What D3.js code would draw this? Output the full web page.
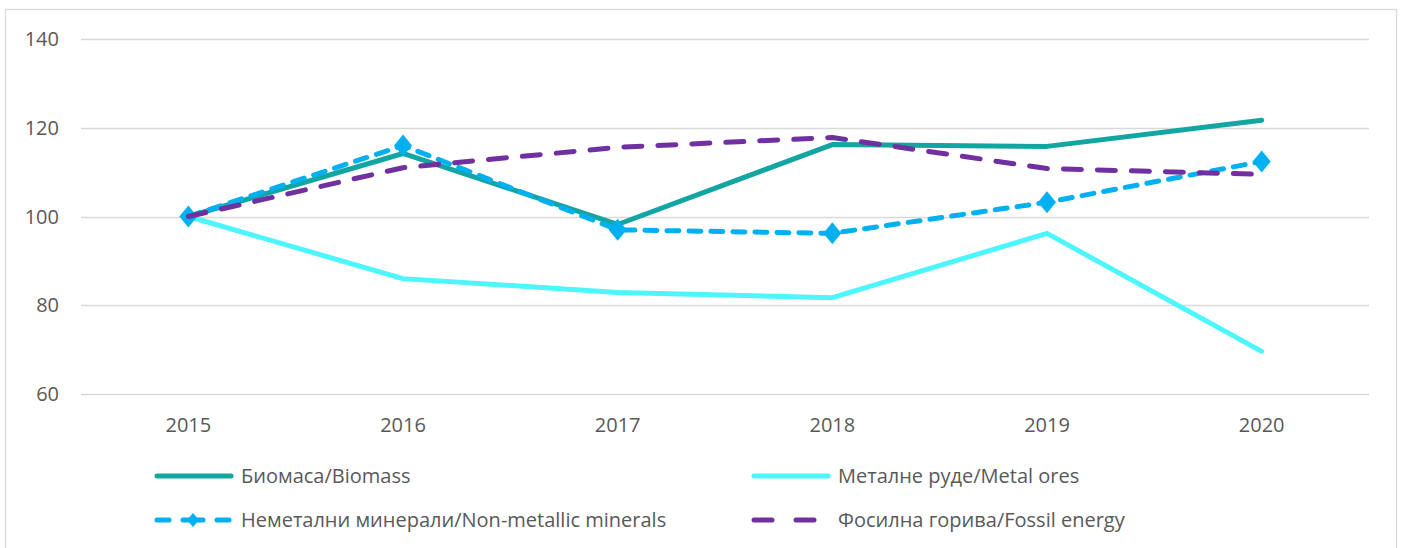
<!DOCTYPE html>
<html>
<head>
<meta charset="utf-8">
<script src="https://cdn.jsdelivr.net/npm/d3@7"></script>
<style>
  body { margin: 0; background: #fff; }
  text { font-family: 'Open Sans', 'DejaVu Sans', sans-serif; }
</style>
</head>
<body>
<div id="chart"></div>
<script>
// ========= Data ========= //
const years = ['2015', '2016', '2017', '2018', '2019', '2020'];
const biomass = [100, 114.2, 98.2, 116.2, 115.8, 121.7];
const metalOres = [100, 86.0, 82.9, 81.7, 96.2, 69.6];
const nonMetallic = [100, 116.0, 97.0, 96.2, 103.2, 112.4];
const fossil = [100, 111.0, 115.6, 117.8, 110.8, 109.5];
const yTicks = [60, 80, 100, 120, 140];

const series = [
  { name: 'Биомаса/Biomass', values: biomass, color: '#13A5A1', dash: null, marker: false },
  { name: 'Металне руде/Metal ores', values: metalOres, color: '#4DF5FC', dash: null, marker: false },
  { name: 'Неметални минерали/Non-metallic minerals', values: nonMetallic, color: '#00B0F0', dash: '12 10', marker: true },
  { name: 'Фосилна горива/Fossil energy', values: fossil, color: '#7030A0', dash: '18 16', marker: false }
];

// ========= Layout ========= //
const width = 1401, height = 548;
const plot = { left: 81, right: 1369, top: 39, bottom: 394 };

const svg = d3.select('#chart').append('svg')
  .attr('width', width)
  .attr('height', height);

// outer frame
svg.append('rect')
  .attr('x', 5.5).attr('y', 9.5)
  .attr('width', 1391).attr('height', 560)
  .attr('fill', 'none')
  .attr('stroke', '#d9d9d9')
  .attr('stroke-width', 1.3);

// ========= Scales ========= //
const x = d3.scaleBand().domain(years).range([plot.left, plot.right]);
const y = d3.scaleLinear().domain([60, 140]).range([plot.bottom, plot.top]);
const cx = (d) => x(d) + x.bandwidth() / 2;

// ========= Grid + y labels ========= //
svg.append('g').selectAll('line')
  .data(yTicks)
  .join('line')
  .attr('x1', plot.left).attr('x2', plot.right)
  .attr('y1', (d) => Math.round(y(d)) + 0.5)
  .attr('y2', (d) => Math.round(y(d)) + 0.5)
  .attr('stroke', '#d9d9d9')
  .attr('stroke-width', 1.3);

svg.append('g').selectAll('text')
  .data(yTicks)
  .join('text')
  .attr('x', 59)
  .attr('y', (d) => y(d))
  .attr('dy', '0.35em')
  .attr('text-anchor', 'end')
  .attr('font-size', 20)
  .attr('fill', '#595959')
  .text((d) => d);

// x labels
svg.append('g').selectAll('text')
  .data(years)
  .join('text')
  .attr('x', (d) => cx(d))
  .attr('y', 432)
  .attr('text-anchor', 'middle')
  .attr('font-size', 20)
  .attr('fill', '#595959')
  .text((d) => d);

// ========= Lines ========= //
const line = d3.line()
  .x((d, i) => cx(years[i]))
  .y((d) => y(d));

// diamond marker, a bit taller than wide
const diamondPath = (w, h) => `M0,${-h}L${w},0L0,${h}L${-w},0Z`;

series.forEach((s) => {
  svg.append('path')
    .datum(s.values)
    .attr('fill', 'none')
    .attr('stroke', s.color)
    .attr('stroke-width', 5)
    .attr('stroke-linecap', 'round')
    .attr('stroke-linejoin', 'round')
    .attr('stroke-dasharray', s.dash)
    .attr('d', line);

  if (s.marker) {
    svg.append('g').selectAll('path')
      .data(s.values)
      .join('path')
      .attr('transform', (d, i) => `translate(${cx(years[i])},${y(d)})`)
      .attr('d', diamondPath(9, 11))
      .attr('fill', s.color);
  }
});

// ========= Legend ========= //
const legendPos = [
  { x: 155, y: 476 },
  { x: 752, y: 476 },
  { x: 155, y: 520 },
  { x: 752, y: 520 }
];

series.forEach((s, i) => {
  const p = legendPos[i];
  const g = svg.append('g').attr('transform', `translate(${p.x},${p.y})`);
  const seg = (a, b) => g.append('line')
    .attr('x1', a).attr('x2', b).attr('y1', 0).attr('y2', 0)
    .attr('stroke', s.color).attr('stroke-width', 5).attr('stroke-linecap', 'round');
  if (i === 2) {
    seg(2, 14);
    seg(28, 48);
    seg(62, 74);
    g.append('path').attr('transform', 'translate(38,0)')
      .attr('d', diamondPath(6, 7)).attr('fill', s.color);
  } else if (i === 3) {
    seg(2, 20);
    seg(44, 62);
  } else {
    seg(2, 76);
  }
  g.append('text')
    .attr('x', 86)
    .attr('y', 0)
    .attr('dy', '0.35em')
    .attr('font-size', 20)
    .attr('fill', '#595959')
    .text(s.name);
});
</script>
</body>
</html>
